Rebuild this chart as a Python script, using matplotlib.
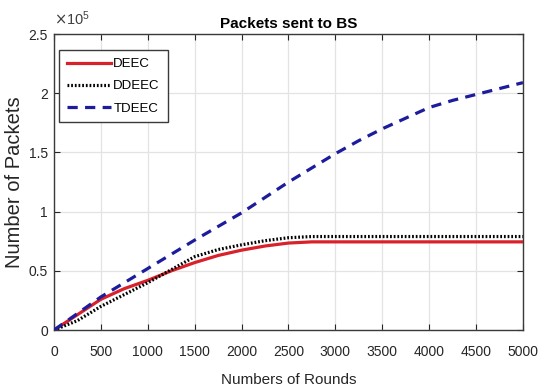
import matplotlib
matplotlib.use('Agg')
import matplotlib.pyplot as plt
from matplotlib.ticker import FuncFormatter

plt.rcParams['font.family'] = ['Liberation Sans', 'DejaVu Sans']

# rounds (x) and packets sent to BS for each protocol
rounds = [0, 250, 500, 750, 1000, 1250, 1500, 1750, 2000, 2250, 2500, 2750,
          3000, 3250, 3500, 3750, 4000, 4250, 4500, 4750, 5000]
deec = [0, 13000, 26000, 35000, 42000, 50000, 57000, 63000, 67500, 71000, 73500, 74500,
        74500, 74500, 74500, 74500, 74500, 74500, 74500, 74500, 74500]
ddeec = [0, 8000, 20000, 30000, 40000, 51000, 62000, 68000, 72000, 75500, 78000, 79000,
         79000, 79000, 79000, 79000, 79000, 79000, 79000, 79000, 79000]
tdeec = [0, 14000, 28000, 40000, 52000, 64000, 76000, 87500, 99000, 112000, 125000, 137000,
         149000, 160000, 170000, 179000, 188000, 194000, 199000, 204000, 209000]

x_ticks = [0, 500, 1000, 1500, 2000, 2500, 3000, 3500, 4000, 4500, 5000]
y_ticks = [0, 50000, 100000, 150000, 200000, 250000]

fig = plt.figure(figsize=(5.39, 3.92), dpi=100)
ax = fig.add_axes([0.1002, 0.158, 0.870, 0.755])

ax.plot(rounds, deec, color='#d9212b', lw=2.3, label='DEEC', zorder=3)
ax.plot(rounds, ddeec, color='black', lw=2.3, linestyle=(0, (0.55, 0.6)), label='DDEEC', zorder=4)
ax.plot(rounds, tdeec, color='#1c1c9c', lw=2.3, linestyle=(0, (3.2, 2.3)), label='TDEEC', zorder=4)

ax.set_xlim(0, 5000)
ax.set_ylim(0, 250000)
ax.set_xticks(x_ticks)
ax.set_yticks(y_ticks)
ax.yaxis.set_major_formatter(FuncFormatter(lambda v, _: '%g' % (v / 1e5)))

ax.grid(True, color='#e3e3e3', lw=0.9)
ax.set_axisbelow(True)
ax.tick_params(direction='in', length=4, width=0.8, top=True, right=True,
               labelsize=10, colors='#262626')
ax.tick_params(axis='x', pad=11)
ax.tick_params(axis='y', pad=4.5)
for s in ax.spines.values():
    s.set_color('#3a3a3a')
    s.set_linewidth(1.0)

ax.text(0.0, 1.02, r'$\times\mathregular{10^5}$', transform=ax.transAxes,
        fontsize=10.5, color='#404040', ha='left', va='bottom')

ax.set_title('Packets sent to BS', fontsize=11, fontweight='bold', pad=4.5)
ax.set_xlabel('Numbers of Rounds', fontsize=11, labelpad=10, color='#262626')
ax.set_ylabel('Number of Packets', fontsize=14.5, labelpad=3, color='#262626')

leg = ax.legend(loc='upper left', bbox_to_anchor=(0.011, 0.946), fontsize=9.5,
                handlelength=3.3, handletextpad=0.2, labelspacing=0.75,
                borderpad=0.6, borderaxespad=0, fancybox=False, framealpha=1,
                edgecolor='#3a3a3a')
leg.get_frame().set_linewidth(1.0)

plt.savefig('out.png', dpi=100)
